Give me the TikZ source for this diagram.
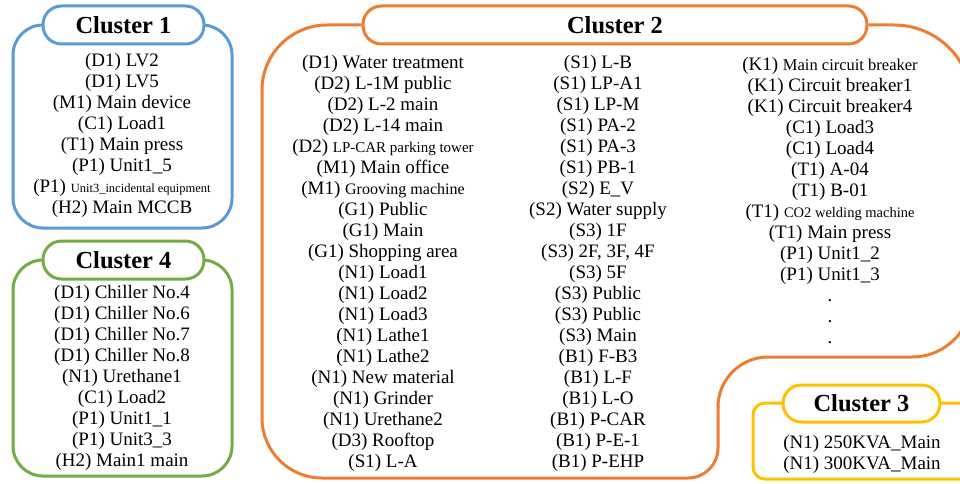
\documentclass[tikz,border=0pt]{standalone}
\usepackage{fontspec}
\setmainfont{Liberation Serif}
\definecolor{cblue}{RGB}{91,155,213}
\definecolor{cgreen}{RGB}{112,173,71}
\definecolor{corange}{RGB}{237,125,49}
\definecolor{cyellow}{RGB}{255,192,0}
\newcommand{\sz}[2]{{\fontsize{#1}{21}\selectfont #2}}
\begin{document}
\begin{tikzpicture}[x=1pt,y=-1pt,line width=3pt,
  clbox/.style={draw,rounded corners=30pt},
  pill/.style={draw,fill=white,rounded corners=18.5pt,inner sep=0pt,
    font=\fontsize{24.5}{28}\selectfont\bfseries,text=black},
  items/.style={align=center,inner sep=0pt,font=\fontsize{19}{21}\selectfont,text=black}]
\useasboundingbox (0,0) rectangle (960,484);
\clip (0,0) rectangle (960,484);
% Cluster 1
\draw[cblue,clbox] (13,25) rectangle (232,228);
\node[pill,draw=cblue,minimum width=161pt,minimum height=38pt] (t1) at (123.5,25) {Cluster 1};
\node[items] (c1) at (122,135) {(D1) LV2\\(D1) LV5\\(M1) Main device\\(C1) Load1\\(T1) Main press\\(P1) Unit1\_5\\(P1) \sz{12.5}{Unit3\_incidental equipment}\\(H2) Main MCCB};
% Cluster 4
\draw[cgreen,clbox] (13,260) rectangle (232,476);
\node[pill,draw=cgreen,minimum width=161pt,minimum height=38pt] (t4) at (123.5,260) {Cluster 4};
\node[items] (c4) at (122,378) {(D1) Chiller No.4\\(D1) Chiller No.6\\(D1) Chiller No.7\\(D1) Chiller No.8\\(N1) Urethane1\\(C1) Load2\\(P1) Unit1\_1\\(P1) Unit3\_3\\(H2) Main1 main};
% Cluster 2
\node[pill,draw=corange,minimum width=504pt,minimum height=38pt] (t2) at (615,25) {Cluster 2};
\draw[corange] (t2.west) -- (327,25) arc[start angle=90,end angle=180,radius=65pt]
  -- (262,418) arc[start angle=180,end angle=270,radius=60pt]
  -- (688,478) arc[start angle=270,end angle=360,radius=30pt]
  -- (718,407) arc[start angle=180,end angle=90,radius=50pt]
  -- (912,357) arc[start angle=270,end angle=360,radius=60pt]
  -- (972,103) arc[start angle=0,end angle=90,radius=78pt]
  -- (t2.east);
\node[items] (c2a) at (383,263.5) {(D1) Water treatment\\(D2) L-1M public\\(D2) L-2 main\\(D2) L-14 main\\(D2) \sz{15}{LP-CAR parking tower}\\(M1) Main office\\(M1) \sz{16}{Grooving machine}\\(G1) Public\\(G1) Main\\(G1) Shopping area\\(N1) Load1\\(N1) Load2\\(N1) Load3\\(N1) Lathe1\\(N1) Lathe2\\(N1) New material\\(N1) Grinder\\(N1) Urethane2\\(D3) Rooftop\\(S1) L-A};
\node[items] (c2b) at (598,263.5) {(S1) L-B\\(S1) LP-A1\\(S1) LP-M\\(S1) PA-2\\(S1) PA-3\\(S1) PB-1\\(S2) E\_V\\(S2) Water supply\\(S3) 1F\\(S3) 2F, 3F, 4F\\(S3) 5F\\(S3) Public\\(S3) Public\\(S3) Main\\(B1) F-B3\\(B1) L-F\\(B1) L-O\\(B1) P-CAR\\(B1) P-E-1\\(B1) P-EHP};
\node[items] (c2c) at (830,200.5) {(K1) \sz{16.5}{Main circuit breaker}\\(K1) Circuit breaker1\\(K1) Circuit breaker4\\(C1) Load3\\(C1) Load4\\(T1) A-04\\(T1) B-01\\(T1) \sz{14.5}{CO2 welding machine}\\(T1) Main press\\(P1) Unit1\_2\\(P1) Unit1\_3\\.\\.\\.};
% Cluster 3
\draw[cyellow,draw,rounded corners=12pt] (753,403) rectangle (1000,479);
\node[pill,draw=cyellow,minimum width=157pt,minimum height=37pt] (t3) at (861.5,403.5) {Cluster 3};
\node[items] (c3) at (862,454) {(N1) 250KVA\_Main\\(N1) 300KVA\_Main};
\end{tikzpicture}
\end{document}
